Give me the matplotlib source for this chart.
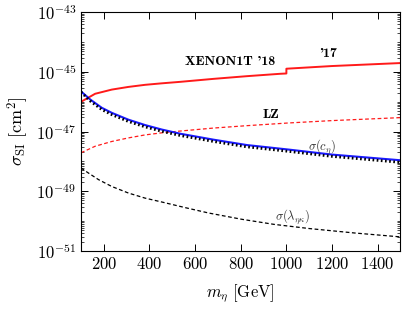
import numpy as np
import matplotlib
matplotlib.use('Agg')
import matplotlib.pyplot as plt
from matplotlib.ticker import LogLocator, NullFormatter

# Values (log10 of sigma_SI in cm^2)
m_xenon = [100, 162, 235, 308, 381, 454, 535, 681, 827, 973, 1000, 1000, 1200, 1500]
xenon = [-46.00, -45.73, -45.59, -45.50, -45.43, -45.38, -45.33, -45.23, -45.14, -45.06, -45.05, -44.89, -44.80, -44.70]

m_lz = [100, 162, 235, 308, 381, 454, 535, 681, 827, 1008, 1200, 1500]
lz = [-47.71, -47.49, -47.33, -47.21, -47.11, -47.04, -46.98, -46.88, -46.80, -46.71, -46.63, -46.53]

m_c = [100, 140, 191, 235, 308, 381, 454, 535, 681, 827, 1008, 1200, 1500]
sig_c = [-45.65, -45.92, -46.20, -46.37, -46.60, -46.78, -46.93, -47.07, -47.27, -47.45, -47.60, -47.77, -47.96]
sig_c_dot = [-45.67, -45.97, -46.26, -46.43, -46.66, -46.84, -46.99, -47.13, -47.33, -47.51, -47.66, -47.83, -48.03]

m_lam = [100, 133, 177, 235, 308, 381, 454, 514, 563, 660, 805, 946, 1100, 1300, 1500]
sig_lam = [-48.22, -48.39, -48.61, -48.84, -49.06, -49.23, -49.36, -49.47, -49.56, -49.73, -49.94, -50.11, -50.25, -50.40, -50.53]

plt.rcParams['font.family'] = 'serif'
plt.rcParams['font.serif'] = ['cmr10']
plt.rcParams['mathtext.fontset'] = 'cm'
plt.rcParams['axes.formatter.use_mathtext'] = True

fig = plt.figure(figsize=(4.07, 3.09), dpi=100)
ax = fig.add_axes([0.199, 0.188, 0.785, 0.772])

ax.plot(m_xenon, 10.0**np.array(xenon), color='#ff1a1a', lw=1.4)
ax.plot(m_lz, 10.0**np.array(lz), color='#ff1a1a', lw=0.9, ls=(0, (3, 2)))
ax.plot(m_c, 10.0**np.array(sig_c), color='#1a1aff', lw=1.5)
ax.plot(m_c, 10.0**np.array(sig_c_dot), color='black', lw=2.0, ls=(0, (0.6, 0.9)))
ax.plot(m_lam, 10.0**np.array(sig_lam), color='black', lw=0.9, ls=(0, (3, 2)))

ax.set_yscale('log')
ax.set_xlim(100, 1500)
ax.set_ylim(1e-51, 1e-43)
ax.set_xticks([200, 400, 600, 800, 1000, 1200, 1400])
ax.set_yticks([1e-51, 1e-49, 1e-47, 1e-45, 1e-43])
ax.yaxis.set_minor_locator(LogLocator(base=10, subs=np.arange(1, 10), numticks=100))
ax.yaxis.set_minor_formatter(NullFormatter())
ax.tick_params(which='both', direction='in', top=True, right=True, labelsize=12)
ax.tick_params(which='major', length=5, width=0.7)
ax.tick_params(which='minor', length=2.5, width=0.5)
for s in ax.spines.values():
    s.set_linewidth(0.8)

ax.text(754, 10**-44.68, "XENON1T '18", fontfamily='cmb10', fontsize=10, ha='center', va='center')
ax.text(1183, 10**-44.41, "'17", fontfamily='cmb10', fontsize=10, ha='center', va='center')
ax.text(933, 10**-46.43, "LZ", fontfamily='cmb10', fontsize=10, ha='center', va='center')
ax.text(1157, 10**-47.49, r'$\sigma(c_\eta)$', fontsize=9, ha='center', va='center', color='#333333')
ax.text(1025, 10**-49.86, r'$\sigma(\lambda_{\eta\kappa})$', fontsize=9, ha='center', va='center', color='#333333')

ax.set_xlabel(r'$m_\eta\ [\mathrm{GeV}]$', fontsize=12, labelpad=8)
ax.set_ylabel(r'$\sigma_\mathrm{SI}\ [\mathrm{cm}^2]$', fontsize=13, labelpad=4)

fig.savefig('out.png', dpi=100)
